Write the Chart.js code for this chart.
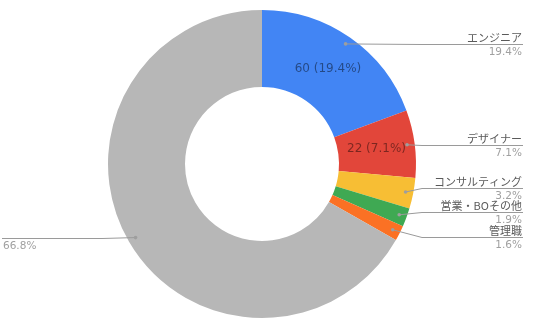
<!DOCTYPE html>
<html>
<head>
<meta charset="utf-8">
<script src="https://cdn.jsdelivr.net/npm/chart.js@4"></script>
<style>
html,body{margin:0;padding:0;background:#fff;}
#wrap{width:536px;height:325px;position:relative;}
</style>
</head>
<body>
<div id="wrap"><canvas id="c" width="536" height="325"></canvas></div>
<script>
// Data
const categories = ['エンジニア', 'デザイナー', 'コンサルティング', '営業・BOその他', '管理職', ''];
const values = [60, 22, 10, 6, 5, 207];
const percentLabels = ['19.4%', '7.1%', '3.2%', '1.9%', '1.6%', '66.8%'];
const insideLabels = ['60 (19.4%)', '22 (7.1%)', '', '', '', ''];
const colors = ['#4285F4', '#E2463A', '#F7BE34', '#3FA953', '#FB7124', '#B7B7B7'];

const calloutPlugin = {
  id: 'callouts',
  afterDatasetsDraw(chart) {
    const ctx = chart.ctx;
    const meta = chart.getDatasetMeta(0);
    const arcs = meta.data;
    if (!arcs.length) return;
    const cx = arcs[0].x, cy = arcs[0].y;
    const outer = arcs[0].outerRadius, inner = arcs[0].innerRadius;
    const W = chart.width;
    const items = arcs.map((a, i) => {
      const mid = (a.startAngle + a.endAngle) / 2;
      const r = outer * 0.95;
      return { i, mid, dx: cx + Math.cos(mid) * r, dy: cy + Math.sin(mid) * r, right: Math.cos(mid) >= 0 };
    });
    const gap = 24.5;
    ['R', 'L'].forEach(side => {
      const list = items.filter(it => (side === 'R') === it.right).sort((a, b) => a.dy - b.dy);
      list.forEach(it => it.ly = it.dy);
      for (let k = 0; k < 500; k++) {
        let moved = false;
        for (let j = 1; j < list.length; j++) {
          const d = list[j].ly - list[j - 1].ly;
          if (d < gap - 0.01) {
            const s = (gap - d) / 2;
            list[j - 1].ly -= s; list[j].ly += s; moved = true;
          }
        }
        if (!moved) break;
      }
      list.forEach(it => it.ly = Math.round(it.ly) + 0.5);
    });
    ctx.save();
    // inside labels
    ctx.font = '12px "DejaVu Sans", sans-serif';
    ctx.textAlign = 'center';
    ctx.textBaseline = 'middle';
    ctx.fillStyle = 'rgba(0,0,0,0.45)';
    items.forEach(it => {
      const t = insideLabels[it.i];
      if (!t) return;
      const rm = (outer + inner) / 2;
      ctx.fillText(t, cx + Math.cos(it.mid) * rm, cy + Math.sin(it.mid) * rm);
    });
    // callouts
    const rightX = W - 13, leftX = 2;
    items.forEach(it => {
      ctx.strokeStyle = '#9a9a9a';
      ctx.lineWidth = 1;
      ctx.beginPath();
      ctx.moveTo(it.dx, it.dy);
      if (it.right) {
        ctx.lineTo(cx + outer + 6, it.ly);
        ctx.lineTo(rightX, it.ly);
      } else {
        ctx.lineTo(Math.min(cx - outer - 6, it.dx), it.ly);
        ctx.lineTo(leftX, it.ly);
      }
      ctx.stroke();
      ctx.fillStyle = '#9e9e9e';
      ctx.beginPath();
      ctx.arc(it.dx, it.dy, 1.8, 0, Math.PI * 2);
      ctx.fill();
      const tx = it.right ? rightX - 1 : leftX + 1;
      ctx.textAlign = it.right ? 'right' : 'left';
      ctx.textBaseline = 'alphabetic';
      if (categories[it.i]) {
        ctx.font = '11px "Noto Sans CJK JP", sans-serif';
        ctx.fillStyle = '#5a5a5a';
        ctx.fillText(categories[it.i], tx, it.ly - 2.5);
      }
      ctx.font = '10.5px "DejaVu Sans", sans-serif';
      ctx.fillStyle = '#a0a0a0';
      ctx.fillText(percentLabels[it.i], tx, it.ly + 10.5);
    });
    ctx.restore();
  }
};

new Chart(document.getElementById('c'), {
  type: 'doughnut',
  data: {
    labels: categories,
    datasets: [{ data: values, backgroundColor: colors, borderWidth: 0, hoverOffset: 0 }]
  },
  options: {
    responsive: false,
    animation: false,
    cutout: '50%',
    layout: { padding: { left: 108, right: 120, top: 10, bottom: 7 } },
    plugins: { legend: { display: false }, tooltip: { enabled: false } }
  },
  plugins: [calloutPlugin]
});
</script>
</body>
</html>
